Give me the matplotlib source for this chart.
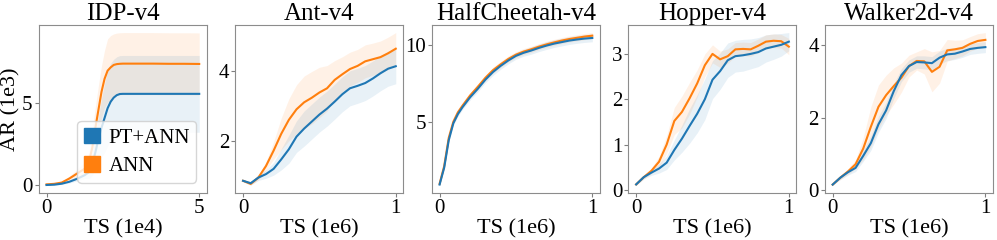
import numpy as np
import matplotlib
matplotlib.use('Agg')
import matplotlib.pyplot as plt
from matplotlib.patches import Patch

plt.rcParams['font.family'] = ['Liberation Serif', 'DejaVu Serif']

# IDP-v4 (x in 1e4 steps, y in 1e3)
idp_x = [0, 0.25, 0.5, 0.75, 1.0, 1.25, 1.4, 1.5, 1.6, 1.7, 1.8, 1.9, 2.0, 2.1, 2.2, 2.3, 2.4, 2.5, 3.0, 3.5, 4.0, 4.5, 5.0]
idp_pt = [0.0, 0.02, 0.08, 0.2, 0.38, 0.6, 0.8, 1.3, 2.0, 2.8, 3.5, 4.1, 4.7, 5.1, 5.35, 5.5, 5.57, 5.58, 5.58, 5.58, 5.58, 5.58, 5.58]
idp_pt_sd = [0.02, 0.03, 0.04, 0.08, 0.12, 0.2, 0.4, 0.7, 1.0, 1.4, 1.8, 2.1, 2.3, 2.35, 2.35, 2.35, 2.35, 2.35, 2.35, 2.35, 2.35, 2.35, 2.35]
idp_ann = [0.04, 0.07, 0.15, 0.4, 0.7, 1.0, 1.5, 2.3, 3.5, 4.6, 5.7, 6.5, 7.0, 7.2, 7.35, 7.4, 7.42, 7.43, 7.43, 7.43, 7.42, 7.42, 7.41]
idp_ann_sd = [0.02, 0.03, 0.06, 0.15, 0.25, 0.4, 0.6, 1.1, 1.3, 1.5, 1.6, 1.75, 1.95, 1.95, 1.9, 1.9, 1.9, 1.9, 1.9, 1.9, 1.9, 1.9, 1.9]

# Ant-v4
ant_x = [0, 0.05, 0.1, 0.15, 0.2, 0.25, 0.3, 0.35, 0.4, 0.45, 0.5, 0.55, 0.6, 0.65, 0.7, 0.75, 0.8, 0.85, 0.9, 0.95, 1.0]
ant_pt = [0.86, 0.79, 0.95, 1.05, 1.2, 1.47, 1.76, 2.12, 2.35, 2.55, 2.75, 2.92, 3.12, 3.33, 3.5, 3.57, 3.65, 3.78, 3.93, 4.06, 4.13]
ant_pt_sd = [0.03, 0.05, 0.08, 0.12, 0.18, 0.3, 0.4, 0.45, 0.5, 0.5, 0.5, 0.5, 0.5, 0.5, 0.5, 0.5, 0.5, 0.5, 0.5, 0.5, 0.5]
ant_ann = [0.86, 0.77, 0.95, 1.28, 1.72, 2.2, 2.6, 2.9, 3.1, 3.23, 3.38, 3.5, 3.74, 3.9, 4.05, 4.14, 4.27, 4.33, 4.39, 4.5, 4.63]
ant_ann_sd = [0.03, 0.04, 0.06, 0.12, 0.25, 0.45, 0.6, 0.7, 0.75, 0.75, 0.72, 0.65, 0.55, 0.5, 0.48, 0.47, 0.47, 0.46, 0.46, 0.46, 0.46]

# HalfCheetah-v4
hc_x = [0, 0.03, 0.06, 0.09, 0.12, 0.15, 0.2, 0.25, 0.3, 0.35, 0.4, 0.45, 0.5, 0.55, 0.6, 0.65, 0.7, 0.75, 0.8, 0.85, 0.9, 0.95, 1.0]
hc_pt = [0.9, 2.0, 3.8, 4.9, 5.5, 5.95, 6.6, 7.15, 7.75, 8.25, 8.65, 9.0, 9.3, 9.5, 9.65, 9.82, 9.97, 10.1, 10.2, 10.3, 10.37, 10.43, 10.47]
hc_pt_sd = [0.05, 0.08, 0.1, 0.12, 0.15, 0.15, 0.18, 0.2, 0.2, 0.22, 0.22, 0.22, 0.22, 0.22, 0.24, 0.24, 0.25, 0.25, 0.25, 0.25, 0.25, 0.25, 0.25]
hc_ann = [0.95, 2.1, 3.95, 5.0, 5.62, 6.05, 6.72, 7.28, 7.87, 8.37, 8.75, 9.1, 9.38, 9.58, 9.73, 9.9, 10.05, 10.18, 10.3, 10.4, 10.48, 10.56, 10.62]
hc_ann_sd = [0.05, 0.08, 0.1, 0.12, 0.12, 0.15, 0.15, 0.18, 0.18, 0.2, 0.2, 0.2, 0.2, 0.2, 0.2, 0.2, 0.2, 0.2, 0.2, 0.2, 0.2, 0.2, 0.2]

# Hopper-v4
hop_x = [0, 0.05, 0.1, 0.15, 0.2, 0.25, 0.3, 0.35, 0.4, 0.45, 0.5, 0.55, 0.6, 0.65, 0.7, 0.75, 0.8, 0.85, 0.9, 0.95, 1.0]
hop_pt = [0.12, 0.28, 0.38, 0.47, 0.6, 0.88, 1.13, 1.41, 1.68, 2.0, 2.43, 2.62, 2.86, 2.95, 2.97, 3.0, 3.04, 3.12, 3.16, 3.2, 3.27]
hop_pt_sd = [0.02, 0.04, 0.06, 0.1, 0.15, 0.22, 0.3, 0.38, 0.42, 0.45, 0.42, 0.4, 0.38, 0.35, 0.35, 0.33, 0.32, 0.3, 0.28, 0.25, 0.2]
hop_ann = [0.12, 0.28, 0.42, 0.62, 1.0, 1.52, 1.72, 2.02, 2.35, 2.75, 3.0, 2.88, 2.95, 3.1, 3.11, 3.1, 3.18, 3.27, 3.29, 3.28, 3.16]
hop_ann_sd = [0.02, 0.04, 0.06, 0.12, 0.2, 0.3, 0.35, 0.35, 0.3, 0.25, 0.2, 0.18, 0.16, 0.15, 0.15, 0.15, 0.15, 0.15, 0.15, 0.15, 0.18]

# Walker2d-v4
wk_x = [0, 0.05, 0.1, 0.15, 0.2, 0.25, 0.3, 0.35, 0.4, 0.45, 0.5, 0.55, 0.6, 0.65, 0.7, 0.75, 0.8, 0.85, 0.9, 0.95, 1.0]
wk_pt = [0.16, 0.35, 0.5, 0.62, 0.95, 1.3, 1.82, 2.2, 2.73, 3.17, 3.42, 3.53, 3.52, 3.5, 3.65, 3.74, 3.76, 3.82, 3.89, 3.92, 3.94]
wk_pt_sd = [0.02, 0.05, 0.08, 0.1, 0.15, 0.2, 0.22, 0.22, 0.2, 0.18, 0.17, 0.17, 0.18, 0.18, 0.18, 0.17, 0.16, 0.16, 0.15, 0.15, 0.15]
wk_ann = [0.16, 0.35, 0.52, 0.72, 1.15, 1.75, 2.3, 2.62, 2.87, 3.1, 3.42, 3.56, 3.55, 3.26, 3.4, 3.85, 3.88, 3.92, 4.03, 4.11, 4.14]
wk_ann_sd = [0.02, 0.05, 0.08, 0.12, 0.3, 0.55, 0.6, 0.55, 0.5, 0.4, 0.3, 0.25, 0.35, 0.55, 0.45, 0.3, 0.25, 0.22, 0.2, 0.2, 0.2]

panels = [
    ('IDP-v4', 'TS (1e4)', idp_x, idp_pt, idp_pt_sd, idp_ann, idp_ann_sd, [0, 5], [0, 5]),
    ('Ant-v4', 'TS (1e6)', ant_x, ant_pt, ant_pt_sd, ant_ann, ant_ann_sd, [0, 1], [2, 4]),
    ('HalfCheetah-v4', 'TS (1e6)', hc_x, hc_pt, hc_pt_sd, hc_ann, hc_ann_sd, [0, 1], [5, 10]),
    ('Hopper-v4', 'TS (1e6)', hop_x, hop_pt, hop_pt_sd, hop_ann, hop_ann_sd, [0, 1], [0, 1, 2, 3]),
    ('Walker2d-v4', 'TS (1e6)', wk_x, wk_pt, wk_pt_sd, wk_ann, wk_ann_sd, [0, 1], [0, 2, 4]),
]

blue = '#1f77b4'
orange = '#ff7f0e'

fig, axes = plt.subplots(1, 5, figsize=(9.97, 2.4), dpi=100)
fig.subplots_adjust(left=0.039, right=0.996, bottom=0.196, top=0.896, wspace=0.17)

for ax, (title, xlab, x, pt, pt_sd, ann, ann_sd, xt, yt) in zip(axes, panels):
    x = np.array(x)
    pt, pt_sd = np.array(pt), np.array(pt_sd)
    ann, ann_sd = np.array(ann), np.array(ann_sd)
    ax.fill_between(x, ann - ann_sd, ann + ann_sd, color=orange, alpha=0.1, lw=0)
    ax.fill_between(x, pt - pt_sd, pt + pt_sd, color=blue, alpha=0.1, lw=0)
    ax.plot(x, ann, color=orange, lw=1.5)
    ax.plot(x, pt, color=blue, lw=1.5)
    ax.set_title(title, fontsize=18, pad=2)
    ax.set_xlabel(xlab, fontsize=16, labelpad=1)
    ax.set_xticks(xt)
    ax.set_yticks(yt)
    ax.tick_params(labelsize=15, length=3, color='0.5', pad=1.5)
    for s in ax.spines.values():
        s.set_color('0.55')

axes[0].set_ylabel('AR (1e3)', fontsize=16, labelpad=1)
handles = [Patch(color=blue, label='PT+ANN'), Patch(color=orange, label='ANN')]
axes[0].legend(handles=handles, loc='lower right', fontsize=15,
               handlelength=0.8, handleheight=0.8, handletextpad=0.4,
               borderpad=0.3, labelspacing=0.4)

fig.savefig('out.png', dpi=100)
